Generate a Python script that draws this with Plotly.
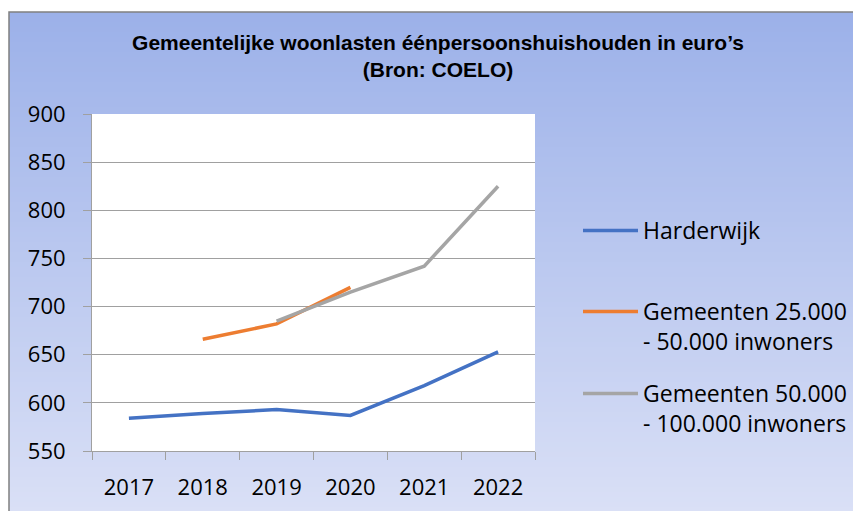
import plotly.graph_objects as go

# data
years = ["2017", "2018", "2019", "2020", "2021", "2022"]
harderwijk = [584, 589, 593, 587, 618, 653]
gem_25_50 = [None, 666, 682, 720, None, None]
gem_50_100 = [None, None, 685, 715, 742, 825]
y_ticks = [550, 600, 650, 700, 750, 800, 850, 900]

OFF = 8                                 # page body margin, figure starts at (8, 8)
W, H = 861 - OFF, 511 - OFF
# plot area on the page: x 92..535, y 114..451
L, T = 92 - OFF, 114 - OFF
R, B = W - (535 - OFF), H - (451 - OFF)
PW, PH = W - L - R, H - T - B

def px_x(px):                           # page pixel -> paper coordinate
    return (px - OFF - L) / PW

def px_y(py):
    return (H - B - (py - OFF)) / PH

def cx(px):                             # page pixel -> container coordinate
    return (px - OFF) / W

def cy(py):
    return 1 - (py - OFF) / H

def mix(c1, c2, t):
    return "rgb(%d,%d,%d)" % tuple(round(a + (b - a) * t) for a, b in zip(c1, c2))

fig = go.Figure()
fig.add_trace(go.Scatter(x=years, y=harderwijk, name="Harderwijk", mode="lines", showlegend=True,
                         line=dict(color="#4472C4", width=3.5), legend="legend"))
fig.add_trace(go.Scatter(x=years, y=gem_25_50, name="Gemeenten 25.000<br>- 50.000 inwoners", mode="lines",
                         showlegend=True, line=dict(color="#ED7D31", width=3.5), legend="legend2"))
fig.add_trace(go.Scatter(x=years, y=gem_50_100, name="Gemeenten 50.000<br>- 100.000 inwoners", mode="lines",
                         showlegend=True, line=dict(color="#A5A5A5", width=3.5), legend="legend3"))

# gradient background of the chart area (strips), white plot area, gray frame
shapes = []
top_c, bot_c = (156, 177, 233), (218, 224, 246)
step = 5
for y0 in range(12, 511, step):
    t = (y0 - 12) / (511 - 12)
    shapes.append(dict(type="rect", xref="paper", yref="paper", layer="below",
                       x0=px_x(9), x1=px_x(880), y0=px_y(y0), y1=px_y(y0 + step + 1),
                       fillcolor=mix(top_c, bot_c, t), line=dict(width=0)))
shapes.append(dict(type="rect", xref="paper", yref="paper", layer="below",
                   x0=px_x(9), x1=px_x(890), y0=px_y(12), y1=px_y(530),
                   line=dict(color="#808080", width=1.5)))
shapes.append(dict(type="rect", xref="x domain", yref="y domain", layer="below",
                   x0=0, x1=1, y0=0, y1=1, fillcolor="white", line=dict(width=0)))

legend_style = dict(bgcolor="rgba(0,0,0,0)", font=dict(family="Open Sans", size=23, color="black"),
                    xref="container", yref="container",
                    xanchor="left", yanchor="top", valign="top", itemwidth=55, borderwidth=0,
                    visible=True)

fig.update_layout(
    width=W, height=H,
    margin=dict(l=L, r=R, t=T, b=B, autoexpand=False),
    paper_bgcolor="white",
    plot_bgcolor="white",
    showlegend=True,
    shapes=shapes,
    title=dict(text="<b>Gemeentelijke woonlasten éénpersoonshuishouden in euro’s<br>(Bron: COELO)</b>",
               x=cx(438), xanchor="center", xref="container",
               y=cy(50), yanchor="top", yref="container",
               font=dict(family="Liberation Sans", size=21, color="black")),
    legend=dict(x=cx(578), y=cy(209), **legend_style),
    legend2=dict(x=cx(578), y=cy(290), **legend_style),
    legend3=dict(x=cx(578), y=cy(372), **legend_style),
    font=dict(family="Open Sans", size=22, color="black"),
)
fig.update_xaxes(type="category", range=[-0.5, 5.5], showgrid=False, showline=True,
                 linecolor="#A0A0A0", linewidth=1, ticks="outside", tickson="boundaries",
                 ticklen=8, tickcolor="#A0A0A0", ticklabelstandoff=17,
                 tickfont=dict(family="Open Sans", size=22, color="black"))
fig.update_yaxes(range=[550, 900], tickvals=y_ticks, showgrid=True, gridcolor="#A0A0A0",
                 gridwidth=1, showline=True, linecolor="#A0A0A0", linewidth=1,
                 ticks="outside", ticklen=8, tickcolor="#A0A0A0", ticklabelstandoff=13,
                 zeroline=False, tickfont=dict(family="Open Sans", size=22, color="black"))

fig.write_html("out.html")
